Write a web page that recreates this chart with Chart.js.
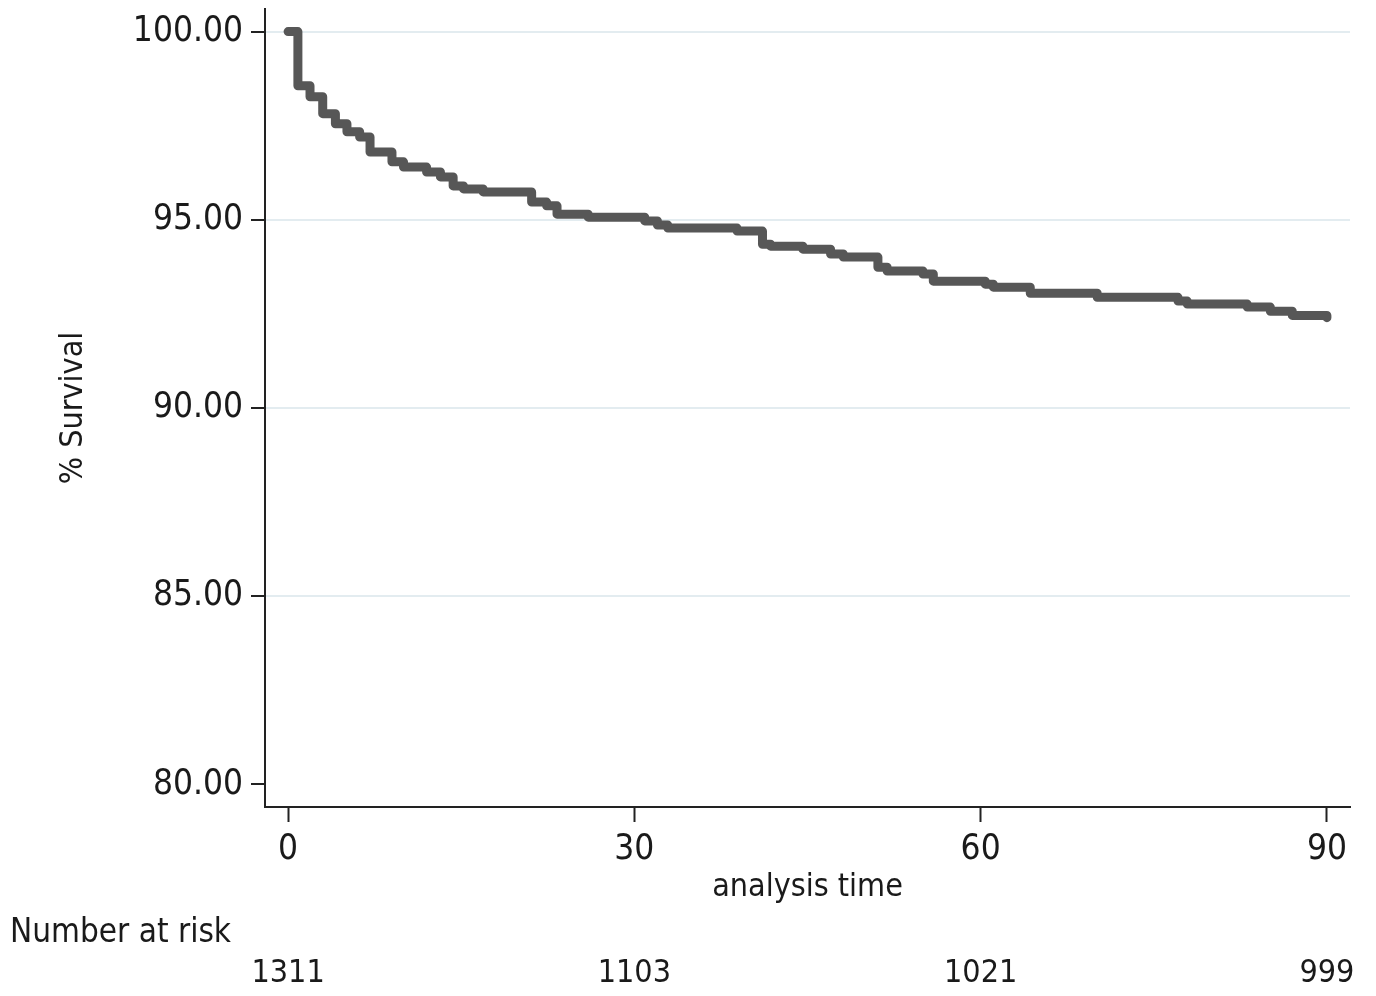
<!DOCTYPE html>
<html><head><meta charset="utf-8">
<script src="https://cdn.jsdelivr.net/npm/chart.js@4/dist/chart.umd.min.js"></script>
<style>html,body{margin:0;padding:0;background:#fff;} #wrap{width:1376px;height:996px;position:relative;}</style>
</head><body><div id="wrap"><canvas id="c" width="1376" height="996"></canvas></div>
<script>
// Kaplan-Meier step data (analysis time, % survival after the step)
const times = [0, 0.85, 1.9, 3.0, 4.1, 5.1, 6.2, 7.1, 9.0, 10.0, 12.0, 13.2, 14.3, 15.2, 16.9, 21.1, 22.4, 23.3, 26.0, 30.9, 32.0, 32.9, 38.9, 41.1, 41.8, 44.6, 47.0, 48.1, 51.1, 51.9, 55.0, 55.9, 60.4, 61.1, 64.3, 70.1, 77.1, 77.9, 83.1, 85.1, 87.0, 90.0];
const survival = [100, 98.56, 98.27, 97.82, 97.55, 97.34, 97.20, 96.80, 96.54, 96.40, 96.27, 96.14, 95.90, 95.82, 95.74, 95.47, 95.37, 95.15, 95.07, 94.97, 94.86, 94.78, 94.70, 94.35, 94.30, 94.22, 94.09, 94.01, 93.74, 93.64, 93.56, 93.37, 93.29, 93.21, 93.05, 92.94, 92.84, 92.76, 92.68, 92.57, 92.46, 92.40];
const xTicks = [0, 30, 60, 90];
const yTicks = [80, 85, 90, 95, 100];
const riskTimes = [0, 30, 60, 90];
const riskCounts = [1311, 1103, 1021, 999];
const riskTitle = 'Number at risk';

const FONT = "'DejaVu Sans Condensed', 'DejaVu Sans', sans-serif";
const INK = '#1a1a1a';
const AXIS = '#222222';
const GRID = '#e3ecf0';

const riskPlugin = {
  id: 'riskTable',
  afterDraw(chart) {
    const ctx = chart.ctx;
    const xs = chart.scales.x;
    ctx.save();
    ctx.fillStyle = INK;
    ctx.textBaseline = 'middle';
    ctx.font = '33px ' + FONT;
    ctx.textAlign = 'left';
    ctx.fillText(riskTitle, 10, 933);
    ctx.font = '32px ' + FONT;
    ctx.textAlign = 'center';
    riskTimes.forEach((t, i) => {
      ctx.fillText(String(riskCounts[i]), xs.getPixelForValue(t), 974);
    });
    ctx.restore();
  }
};

new Chart(document.getElementById('c'), {
  type: 'line',
  data: {
    datasets: [{
      data: times.map((t, i) => ({ x: t, y: survival[i] })),
      borderColor: '#575757',
      borderWidth: 9,
      stepped: 'before',
      pointRadius: 0,
      fill: false,
      borderCapStyle: 'round',
      borderJoinStyle: 'round',
      clip: false
    }]
  },
  options: {
    responsive: false,
    animation: false,
    devicePixelRatio: 1,
    layout: { padding: { top: 9, right: 26, left: 0, bottom: 0 } },
    plugins: { legend: { display: false }, tooltip: { enabled: false } },
    scales: {
      x: {
        type: 'linear',
        min: -2, max: 92,
        afterBuildTicks: s => { s.ticks = xTicks.map(v => ({ value: v })); },
        afterFit: s => { s.height = 189; s.paddingLeft = 0; s.paddingRight = 0; },
        ticks: { font: { family: FONT, size: 35 }, color: INK, padding: 7, maxRotation: 0, autoSkip: false, callback: v => String(v) },
        grid: { drawOnChartArea: false, color: AXIS, tickColor: AXIS, tickLength: 15, tickWidth: 2 },
        border: { display: true, color: AXIS, width: 2 },
        title: { display: true, text: 'analysis time', font: { family: FONT, size: 32 }, color: INK, padding: { top: 0, bottom: 89 } }
      },
      y: {
        type: 'linear',
        min: 79.4, max: 100.6,
        afterBuildTicks: s => { s.ticks = yTicks.map(v => ({ value: v })); },
        afterFit: s => { s.width = 265; s.paddingTop = 0; s.paddingBottom = 0; },
        ticks: { font: { family: FONT, size: 35 }, color: INK, padding: 8, autoSkip: false, callback: v => Number(v).toFixed(2) },
        grid: {
          color: c => (c.tick && c.tick.value === 80) ? 'rgba(0,0,0,0)' : GRID,
          lineWidth: 2, tickColor: AXIS, tickLength: 14, tickWidth: 2
        },
        border: { display: true, color: AXIS, width: 2 },
        title: { display: true, text: '% Survival', font: { family: FONT, size: 32 }, color: INK, padding: { top: 54, bottom: 0 } }
      }
    }
  },
  plugins: [riskPlugin]
});
</script></body></html>
